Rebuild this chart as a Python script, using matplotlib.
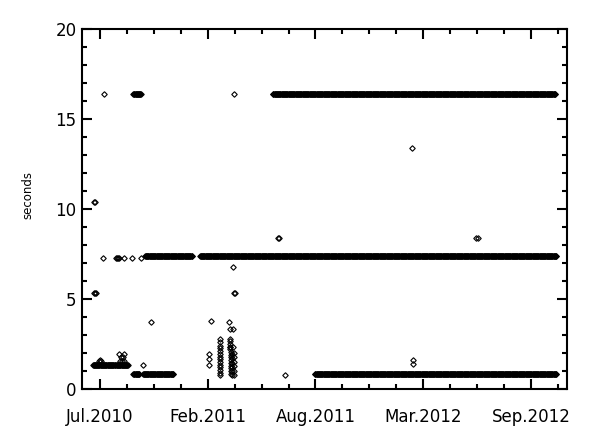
import numpy as np
import matplotlib.pyplot as plt
from matplotlib.ticker import MultipleLocator, FixedLocator

# x axis is in days counted from the left edge of the plot (early Jun.2010)
# runs of daily samples sitting at one value: first day, last day, seconds
run_start = [20, 63, 95, 113, 95, 117, 219, 354, 432]
run_end = [61, 85, 106, 169, 109, 204, 880, 878, 880]
run_value = [1.33, 1.33, 0.83, 0.83, 16.4, 7.4, 7.4, 16.4, 0.83]

# isolated samples
pt_day = [22, 24, 21, 23, 25, 40,
          39, 63, 65, 67, 69, 78, 93, 109,
          31, 33, 35, 69, 78, 72, 75, 71, 74, 77,
          113, 128,
          236, 236, 236, 239,
          256, 256, 256, 256, 256, 256, 256, 256, 256, 256, 256, 256, 256, 256,
          274, 274, 274, 274, 274,
          276, 276, 276, 276, 276, 276, 276, 276, 276,
          279, 279, 279, 279, 279, 279,
          282, 282, 282, 282, 282, 282,
          273, 275, 280, 275, 280, 280, 281, 283, 282,
          363, 365, 377, 612, 614, 614, 731, 734]
pt_value = [10.4, 10.4, 5.35, 5.35, 5.35, 16.4,
            7.28, 7.28, 7.28, 7.28, 7.28, 7.28, 7.28, 7.28,
            1.55, 1.6, 1.55, 1.95, 1.95, 1.75, 1.75, 1.55, 1.55, 1.55,
            1.33, 3.72,
            1.94, 1.67, 1.33, 3.78,
            2.8, 2.6, 2.4, 2.25, 2.1, 1.95, 1.8, 1.65, 1.5, 1.35, 1.2, 1.05, 0.9, 0.78,
            2.8, 2.65, 2.5, 2.35, 2.2,
            2.05, 1.9, 1.75, 1.6, 1.45, 1.3, 1.15, 1.0, 0.85,
            1.95, 1.7, 1.45, 1.2, 1.0, 0.8,
            2.0, 1.75, 1.5, 1.25, 1.0, 0.8,
            3.72, 3.33, 3.33, 2.33, 2.33, 6.78, 5.35, 5.35, 16.4,
            8.39, 8.39, 0.8, 13.4, 1.6, 1.38, 8.39, 8.39]

tick_days = [33, 233, 433, 633, 833]
tick_labels = ['Jul.2010', 'Feb.2011', 'Aug.2011', 'Mar.2012', 'Sep.2012']

days = []
secs = []
for s, e, v in zip(run_start, run_end, run_value):
    d = np.arange(s, e + 1)
    days.extend(d)
    secs.extend([v] * len(d))
days.extend(pt_day)
secs.extend(pt_value)

plt.rcParams['font.family'] = 'DejaVu Sans'
fig = plt.figure(figsize=(6, 4.4), dpi=100)
ax = fig.add_axes([0.137, 0.116, 0.808, 0.818])

ax.plot(days, secs, linestyle='none', marker='D', markersize=2.8,
        markerfacecolor='none', markeredgecolor='black', markeredgewidth=0.8)

ax.set_xlim(0, 900)
ax.set_ylim(0, 20)
ax.xaxis.set_major_locator(FixedLocator(tick_days))
ax.set_xticklabels(tick_labels)
ax.xaxis.set_minor_locator(MultipleLocator(50, offset=33))
ax.yaxis.set_major_locator(MultipleLocator(5))
ax.yaxis.set_minor_locator(MultipleLocator(1))

ax.tick_params(which='both', direction='in', top=True, right=True,
               width=1.5, labelsize=12)
ax.tick_params(which='major', length=7)
ax.tick_params(which='minor', length=3.5)
ax.tick_params(axis='x', which='major', pad=14)
ax.tick_params(axis='y', which='major', pad=4)
for sp in ax.spines.values():
    sp.set_linewidth(1.5)

ax.set_ylabel('seconds', fontsize=8.5)
ax.yaxis.set_label_coords(-0.099, 0.54)

fig.savefig('out.png', dpi=100)
